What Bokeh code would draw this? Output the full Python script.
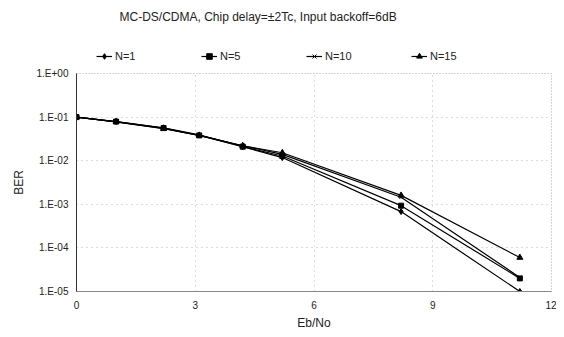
from bokeh.plotting import figure
from bokeh.layouts import column
from bokeh.models import Legend, LegendItem, CustomJSTickFormatter, FixedTicker, Range1d, Label
from bokeh.embed import file_html
from bokeh.resources import INLINE

ebno = [0, 1.0, 2.2, 3.1, 4.2, 5.2, 8.2, 11.2]
ber_n1 = [0.1, 0.079, 0.057, 0.039, 0.021, 0.0118, 6.8e-4, 1.0e-5]
ber_n5 = [0.1, 0.079, 0.056, 0.038, 0.021, 0.0128, 9.3e-4, 2.0e-5]
ber_n10 = [0.1, 0.078, 0.055, 0.038, 0.022, 0.0140, 1.45e-3, 2.1e-5]
ber_n15 = [0.1, 0.078, 0.054, 0.038, 0.022, 0.0152, 1.6e-3, 6.0e-5]
series_names = ["N=1", "N=5", "N=10", "N=15"]
x_ticks = [0, 3, 6, 9, 12]
y_ticks = [1e-5, 1e-4, 1e-3, 1e-2, 1e-1, 1]
title_text = "MC-DS/CDMA, Chip delay=\u00b12Tc, Input backoff=6dB"

FONT = "Liberation Sans"
TXT = "#222222"

# ---- header figure: title + legend (its frame is aligned with the main frame) ----
head = figure(width=556, height=65, output_backend="svg", toolbar_location=None,
              x_range=Range1d(-20, -19), y_range=Range1d(0, 1),
              x_axis_location=None, y_axis_location=None,
              min_border_left=76, min_border_right=5, min_border_top=0, min_border_bottom=0)
head.grid.visible = False
head.outline_line_color = None

head.add_layout(Label(x=43, y=49, x_units="screen", y_units="screen", text=title_text,
                      text_font=FONT, text_font_size="12px", text_color=TXT,
                      text_baseline="middle", text_align="left"))

# ---- main figure ----
p = figure(width=556, height=267, y_axis_type="log", output_backend="svg",
           toolbar_location=None, x_range=Range1d(0, 12), y_range=Range1d(1e-5, 1),
           min_border_left=76, min_border_right=5, min_border_bottom=38, min_border_top=8)

specs = [
    (ber_n1, "diamond", 6),
    (ber_n5, "square", 5),
    (ber_n10, "x", 5),
    (ber_n15, "triangle", 6),
]
items = []
for name, (ys, mk, sz) in zip(series_names, specs):
    p.line(ebno, ys, line_color="black", line_width=1.2)
    p.scatter(ebno, ys, marker=mk, size=sz, fill_color="black", line_color="black")
    # legend proxies in the header (their data lie outside the header's ranges)
    hl = head.line(ebno, ys, line_color="black", line_width=1.2)
    hm = head.scatter(ebno, ys, marker=mk, size=sz, fill_color="black", line_color="black")
    items.append(LegendItem(label=name, renderers=[hl, hm]))

legend = Legend(items=items, orientation="horizontal", location=(20, 2),
                glyph_width=16, glyph_height=14, label_height=14, label_standoff=3,
                label_width=86, spacing=0, padding=2, margin=0,
                border_line_color=None, background_fill_alpha=0,
                label_text_font=FONT, label_text_font_size="11px", label_text_color=TXT)
head.add_layout(legend, "center")

p.xaxis.ticker = FixedTicker(ticks=x_ticks)
p.yaxis.ticker = FixedTicker(ticks=y_ticks)
p.yaxis.formatter = CustomJSTickFormatter(code="""
const e = Math.round(Math.log10(tick));
return "1.E" + (e < 0 ? "-" : "+") + String(Math.abs(e)).padStart(2, "0");
""")
for ax in (p.xaxis, p.yaxis):
    ax.major_tick_out = 0
    ax.major_tick_in = 0
    ax.minor_tick_out = 0
    ax.minor_tick_in = 0
    ax.major_label_text_font = FONT
    ax.major_label_text_font_size = "10px"
    ax.major_label_text_color = TXT
    ax.axis_label_text_font = FONT
    ax.axis_label_text_font_size = "12px"
    ax.axis_label_text_font_style = "normal"
    ax.axis_label_text_color = TXT
p.xaxis.axis_label = "Eb/No"
p.yaxis.axis_label = "BER"
p.yaxis.axis_line_color = "#333333"
p.xaxis.axis_line_color = "#888888"
p.xaxis.major_label_standoff = 9
p.yaxis.major_label_standoff = 8
p.xaxis.axis_label_standoff = 4
p.yaxis.axis_label_standoff = 8

p.xgrid.grid_line_color = "#bbbbbb"
p.ygrid.grid_line_color = "#bbbbbb"
p.xgrid.grid_line_dash = "1 4"
p.ygrid.grid_line_dash = "1 4"
p.outline_line_color = "#aaaaaa"
p.outline_line_dash = "1 2"

layout = column(head, p, spacing=0)
open("out.html", "w").write(file_html(layout, INLINE))
